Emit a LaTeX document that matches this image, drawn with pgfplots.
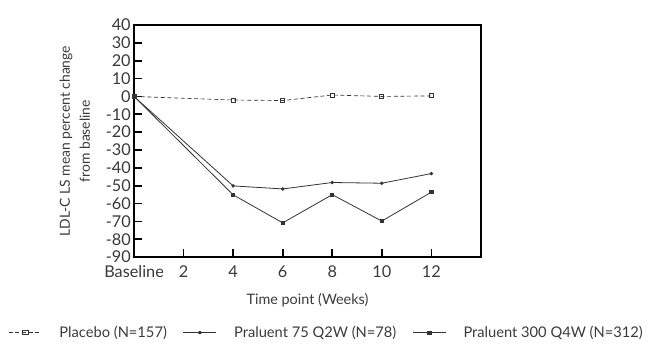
\documentclass[border=0pt]{standalone}
\usepackage{fontspec}
\setmainfont{Lato}
\usepackage{pgfplots}
\pgfplotsset{compat=1.18}
\definecolor{txt}{HTML}{3A3A3A}
\definecolor{ln}{HTML}{333333}
\begin{document}
\begin{tikzpicture}
\begin{axis}[
  name=ax,
  scale only axis, width=260pt, height=174pt,
  xmin=0, xmax=14, ymin=-90, ymax=40,
  axis line style={line width=1.3pt, black},
  xtick={0,2,...,12}, xticklabels={Baseline,2,4,6,8,10,12},
  ytick={-90,-80,...,40},
  tick align=inside, xtick pos=bottom, ytick pos=left,
  major tick length=6pt, tick style={line width=1.2pt, black},
  /pgf/number format/assume math mode=true,
  ticklabel style={font=\fontsize{12.2}{14}\selectfont, text=txt},
  yticklabel style={xshift=1pt},
  xticklabel style={yshift=-3pt},
  xlabel={Time point (Weeks)},
  xlabel style={font=\fontsize{10.8}{13}\selectfont, text=txt, yshift=-5pt},
  ylabel={LDL-C LS mean percent change\\from baseline},
  ylabel style={font=\fontsize{10.4}{15}\selectfont, text=txt, align=center, yshift=5pt},
  legend columns=3,
  legend style={at={(0.556,-0.325)}, anchor=center, draw=none, fill=none,
    font=\fontsize{11}{13}\selectfont, text=txt,
    /tikz/every odd column/.append style={column sep=11pt},
    /tikz/every even column/.append style={column sep=10pt}},
  legend image post style={xscale=1.45},
]
\addplot[ln, line width=0.5pt, densely dashed, mark=square, mark size=1.5pt,
  mark options={solid, fill=white, line width=0.7pt}]
  coordinates {(0,0) (4,-2) (6,-2.3) (8,0.8) (10,0) (12,0.3)};
\addlegendentry{Placebo (N=157)}
\addplot[ln, line width=0.6pt, mark=*, mark size=1pt]
  coordinates {(0,0) (4,-50.1) (6,-51.8) (8,-48.2) (10,-48.6) (12,-43.2)};
\addlegendentry{Praluent 75 Q2W (N=78)}
\addplot[ln, line width=0.6pt, mark=square*, mark size=1.2pt]
  coordinates {(0,0) (4,-55.1) (6,-70.8) (8,-55) (10,-69.8) (12,-53.6)};
\addlegendentry{Praluent 300 Q4W (N=312)}
\end{axis}
\pgfresetboundingbox
\path[use as bounding box] ([xshift=-100.5pt,yshift=-72pt]ax.south west) rectangle ([xshift=129pt,yshift=18.75pt]ax.north east);
\end{tikzpicture}
\end{document}
